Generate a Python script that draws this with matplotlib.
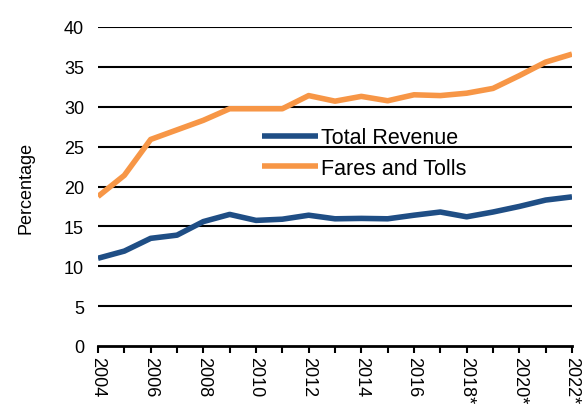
import matplotlib
matplotlib.use("Agg")
import matplotlib.pyplot as plt

years = list(range(2004, 2023))
total_revenue = [11.0, 11.9, 13.5, 13.9, 15.6, 16.5, 15.75, 15.9, 16.4, 15.95, 16.0,
                 15.95, 16.4, 16.8, 16.2, 16.8, 17.5, 18.3, 18.7]
fares_tolls = [18.75, 21.4, 25.9, 27.1, 28.3, 29.75, 29.75, 29.75, 31.4, 30.7, 31.3,
               30.75, 31.5, 31.4, 31.7, 32.3, 33.9, 35.6, 36.6]
xtick_years = list(range(2004, 2023, 2))
xtick_labels = ["2004", "2006", "2008", "2010", "2012", "2014", "2016", "2018*", "2020*", "2022*"]
yticks = [0, 5, 10, 15, 20, 25, 30, 35, 40]

plt.rcParams['font.family'] = ['Liberation Sans', 'DejaVu Sans']

fig = plt.figure(figsize=(5.84, 4.06), dpi=100)
ax = fig.add_axes([98/584, 59/406, 474/584, 319/406])

for y in yticks[1:]:
    ax.axhline(y, color='black', lw=1.5, zorder=1)

ax.plot(years, total_revenue, color='#1F4E85', lw=4, label='Total Revenue', zorder=3,
        solid_capstyle='butt')
ax.plot(years, fares_tolls, color='#F79646', lw=4, label='Fares and Tolls', zorder=3,
        solid_capstyle='butt')

ax.set_xlim(2004, 2022)
ax.set_ylim(0, 40)
ax.set_yticks(yticks)
ax.set_yticklabels([str(v) for v in yticks], fontsize=13)
ax.tick_params(axis='y', length=0, pad=10)
ax.set_xticks(years)
labels = []
for y in years:
    if y in xtick_years:
        labels.append(xtick_labels[xtick_years.index(y)])
    else:
        labels.append('')
ax.set_xticklabels(labels, fontsize=13, rotation=-90)
ax.tick_params(axis='x', direction='out', length=5, width=1.5, pad=2, color='black')

for s in ['top', 'right', 'left']:
    ax.spines[s].set_visible(False)
ax.spines['bottom'].set_linewidth(2)
ax.spines['bottom'].set_zorder(2)

ax.set_ylabel('Percentage', fontsize=13, labelpad=21)

leg = ax.legend(loc='upper left', bbox_to_anchor=(0.346, 0.685), frameon=False,
                fontsize=15.5, handlelength=2.6, handletextpad=0.15, labelspacing=0.42,
                borderpad=0, borderaxespad=0)

fig.savefig('out.png', dpi=100)
